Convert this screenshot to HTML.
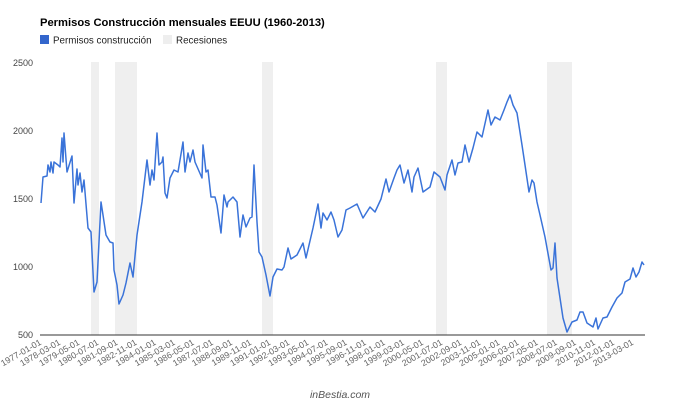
<!DOCTYPE html>
<html><head><meta charset="utf-8"><style>
body{margin:0;background:#fff;width:680px;height:406px;overflow:hidden;font-family:"Liberation Sans",Arial,sans-serif}
</style></head><body>
<svg width="680" height="406" xmlns="http://www.w3.org/2000/svg" font-family="Liberation Sans, Arial, sans-serif">
<text x="40" y="26" font-size="11.2" font-weight="bold" fill="#000">Permisos Construcción mensuales EEUU (1960-2013)</text>
<rect x="40" y="35" width="9" height="9" fill="#3366cc"/>
<text x="53" y="43.5" font-size="9.8" fill="#222">Permisos construcción</text>
<rect x="163" y="35" width="9" height="9" fill="#eeeeee"/>
<text x="176" y="43.5" font-size="9.8" fill="#222">Recesiones</text>
<g fill="#efefef">
<rect x="91" y="62" width="8" height="273"/>
<rect x="115" y="62" width="22" height="273"/>
<rect x="262" y="62" width="11" height="273"/>
<rect x="436" y="62" width="11" height="273"/>
<rect x="547" y="62" width="25" height="273"/>
</g>
<g font-size="9" fill="#444" text-anchor="end">
<text x="33" y="66">2500</text><text x="33" y="134">2000</text><text x="33" y="202">1500</text><text x="33" y="270">1000</text><text x="33" y="338">500</text>
</g>
<line x1="40" y1="335" x2="645" y2="335" stroke="#333" stroke-width="1"/>
<polyline fill="none" stroke="#3a73d9" stroke-width="1.5" stroke-linejoin="round" points="41,203 43,177 47,176 48,165 50,172 51,162 53,173 54,162 58,165 60,167 62,138 63,162 64,133 67,172 72,156 74,203 77,169 78,185 80,173 82,192 84,180 88,228 91,232 94,292 97,282 101,202 103,215 106,235 110,242 113,243 114,270 117,285 119,304 123,295 126,283 130,263 133,277 137,235 142,202 147,160 150,185 152,170 154,180 157,133 159,165 162,162 163,157 165,193 167,198 170,178 174,170 178,172 183,142 185,172 188,153 190,162 193,150 195,162 202,178 203,145 206,172 208,170 211,197 215,197 217,205 221,233 224,195 227,207 228,202 233,197 237,202 240,237 243,215 246,227 250,218 252,217 254,165 257,222 259,252 262,257 266,275 270,296 273,277 277,269 282,270 284,267 288,248 291,259 297,255 303,243 306,258 313,228 318,204 321,228 323,213 327,220 331,212 334,220 338,237 342,230 346,210 350,208 357,204 363,218 370,207 375,212 381,199 386,179 389,192 394,178 397,170 400,165 404,183 408,170 412,192 414,177 418,168 423,192 430,187 434,172 440,177 445,190 447,175 452,160 455,175 458,163 462,162 465,145 469,162 473,148 477,132 482,137 488,110 491,125 495,117 500,120 504,110 507,102 510,95 513,105 517,113 522,145 525,165 529,192 532,180 534,183 537,202 540,215 545,237 551,270 553,268 555,243 557,278 563,318 567,332 572,322 577,320 580,312 583,312 587,323 593,327 596,318 598,329 603,318 607,317 612,307 617,298 622,293 625,282 630,279 633,268 636,277 639,272 642,262 644,265"/>
<g font-size="8.8" fill="#666" text-anchor="end">
<text transform="translate(42,344) rotate(-30)">1977-01-01</text>
<text transform="translate(61.1,344) rotate(-30)">1978-03-01</text>
<text transform="translate(80.2,344) rotate(-30)">1979-05-01</text>
<text transform="translate(99.3,344) rotate(-30)">1980-07-01</text>
<text transform="translate(118.4,344) rotate(-30)">1981-09-01</text>
<text transform="translate(137.5,344) rotate(-30)">1982-11-01</text>
<text transform="translate(156.6,344) rotate(-30)">1984-01-01</text>
<text transform="translate(175.7,344) rotate(-30)">1985-03-01</text>
<text transform="translate(194.8,344) rotate(-30)">1986-05-01</text>
<text transform="translate(213.9,344) rotate(-30)">1987-07-01</text>
<text transform="translate(233,344) rotate(-30)">1988-09-01</text>
<text transform="translate(252.1,344) rotate(-30)">1989-11-01</text>
<text transform="translate(271.2,344) rotate(-30)">1991-01-01</text>
<text transform="translate(290.3,344) rotate(-30)">1992-03-01</text>
<text transform="translate(309.4,344) rotate(-30)">1993-05-01</text>
<text transform="translate(328.5,344) rotate(-30)">1994-07-01</text>
<text transform="translate(347.6,344) rotate(-30)">1995-09-01</text>
<text transform="translate(366.7,344) rotate(-30)">1996-11-01</text>
<text transform="translate(385.8,344) rotate(-30)">1998-01-01</text>
<text transform="translate(404.9,344) rotate(-30)">1999-03-01</text>
<text transform="translate(424,344) rotate(-30)">2000-05-01</text>
<text transform="translate(443.1,344) rotate(-30)">2001-07-01</text>
<text transform="translate(462.2,344) rotate(-30)">2002-09-01</text>
<text transform="translate(481.3,344) rotate(-30)">2003-11-01</text>
<text transform="translate(500.4,344) rotate(-30)">2005-01-01</text>
<text transform="translate(519.5,344) rotate(-30)">2006-03-01</text>
<text transform="translate(538.6,344) rotate(-30)">2007-05-01</text>
<text transform="translate(557.7,344) rotate(-30)">2008-07-01</text>
<text transform="translate(576.8,344) rotate(-30)">2009-09-01</text>
<text transform="translate(595.9,344) rotate(-30)">2010-11-01</text>
<text transform="translate(615,344) rotate(-30)">2012-01-01</text>
<text transform="translate(634.1,344) rotate(-30)">2013-03-01</text>
</g>
<text x="340" y="398" font-size="10.5" font-style="italic" fill="#555" text-anchor="middle">inBestia.com</text>
</svg>
</body></html>
